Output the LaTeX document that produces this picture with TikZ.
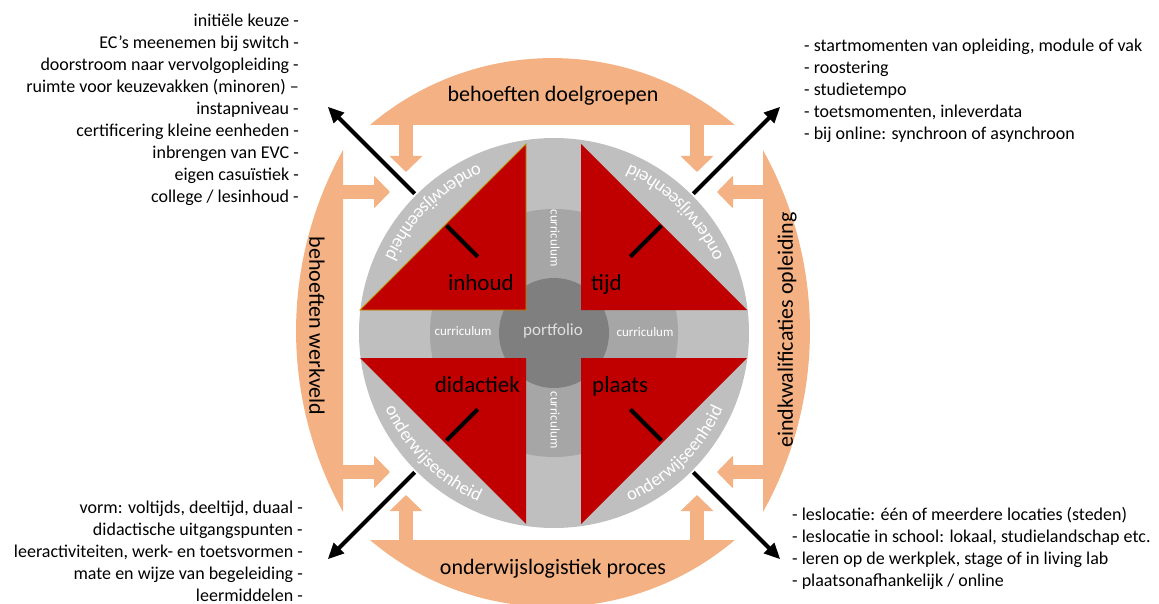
\documentclass[tikz,border=0pt]{standalone}
\usepackage{fontspec}
\setmainfont{Carlito}
\usetikzlibrary{arrows.meta,calc,decorations.text}

\definecolor{peach}{HTML}{F4B183}
\definecolor{quadred}{HTML}{C00000}
\definecolor{ringgray}{HTML}{BFBFBF}
\definecolor{midgray}{HTML}{A6A6A6}
\definecolor{coregray}{HTML}{7F7F7F}
\definecolor{edgegold}{HTML}{BF9000}

\tikzset{
  blockarrow/.style={peach, line width=14pt, -{Triangle[width=32pt,length=16pt]}},
  pointer/.style={black, line width=4pt, -{Triangle[width=14pt,length=16pt]}},
  spoke/.style={black, line width=4pt},
  listtext/.style={font=\fontsize{18}{22}\selectfont, inner sep=0pt},
  bandlabel/.style={font=\fontsize{22}{26}\selectfont, inner sep=0pt},
  quadlabel/.style={font=\fontsize{23}{27}\selectfont, inner sep=0pt},
  currlabel/.style={font=\fontsize{13}{15}\selectfont, text=white, inner sep=0pt},
}

\begin{document}
\begin{tikzpicture}[x=1pt,y=1pt]
  \useasboundingbox (0,0) rectangle (1159,-604);
  \coordinate (C) at (554,-333);

  % orange frame round the wheel
  \fill[peach] (370,-125) arc[start angle=130.3, end angle=49.7, radius=282] -- cycle;
  \fill[peach] (370,-540) arc[start angle=229.7, end angle=310.3, radius=282] -- cycle;
  \fill[peach] (343,-150) arc[start angle=150.9, end angle=209.1, radius=372] -- cycle;
  \fill[peach] (763,-512) arc[start angle=-29.1, end angle=29.1, radius=372] -- cycle;

  \coordinate (dg-l) at (406,-125);  \coordinate (dg-l-end) at (406,-172);
  \coordinate (dg-r) at (697,-125);  \coordinate (dg-r-end) at (697,-172);
  \coordinate (lp-l) at (406,-540);  \coordinate (lp-l-end) at (406,-495);
  \coordinate (lp-r) at (697,-540);  \coordinate (lp-r-end) at (697,-495);
  \coordinate (wv-t) at (343,-192);  \coordinate (wv-t-end) at (390,-192);
  \coordinate (wv-b) at (343,-472);  \coordinate (wv-b-end) at (390,-472);
  \coordinate (ek-t) at (763,-192);  \coordinate (ek-t-end) at (717,-192);
  \coordinate (ek-b) at (763,-472);  \coordinate (ek-b-end) at (717,-472);
  \draw[blockarrow] (dg-l) -- (dg-l-end);
  \draw[blockarrow] (dg-r) -- (dg-r-end);
  \draw[blockarrow] (lp-l) -- (lp-l-end);
  \draw[blockarrow] (lp-r) -- (lp-r-end);
  \draw[blockarrow] (wv-t) -- (wv-t-end);
  \draw[blockarrow] (wv-b) -- (wv-b-end);
  \draw[blockarrow] (ek-t) -- (ek-t-end);
  \draw[blockarrow] (ek-b) -- (ek-b-end);

  % the wheel
  \fill[ringgray] (C) circle[radius=195];
  \fill[midgray] (C) circle[radius=124];
  \fill[coregray] (C) circle[radius=55];
  \filldraw[quadred, draw=edgegold, line width=0.8pt] (526,-310) -- (360,-310) -- (526,-144) -- cycle;
  \fill[quadred] (581,-310) -- (747,-310) -- (581,-144) -- cycle;
  \fill[quadred] (526,-358) -- (360,-358) -- (526,-524) -- cycle;
  \fill[quadred] (581,-358) -- (747,-358) -- (581,-524) -- cycle;

  \foreach \a/\nm in {135/tl, 45/tr, 225/bl, 315/br} {
    \coordinate (\nm-in) at ($(C)+(\a:108)$);
    \coordinate (\nm-rim) at ($(C)+(\a:152)$);
    \coordinate (\nm-edge) at ($(C)+(\a:197)$);
    \coordinate (\nm-tip) at ($(C)+(\a:320)$);
    \draw[spoke] (\nm-in) -- (\nm-rim);
    \draw[pointer] (\nm-edge) -- (\nm-tip);
  }

  \foreach \s/\e in {105/165, 15/75, 195/255, 285/345}
    \path[decorate, decoration={text along path, text align=center, text color=white,
      text={|\fontsize{18.5}{19}\selectfont|onderwijseenheid}}]
      ($(C)+(\s:185)$) arc[start angle=\s, end angle=\e, radius=185];

  \node[currlabel, rotate=-90] (curr-n) at (555,-238) {curriculum};
  \node[currlabel, rotate=-90] (curr-s) at (555,-420) {curriculum};
  \node[currlabel] (curr-w) at (463,-331) {curriculum};
  \node[currlabel] (curr-e) at (645,-332) {curriculum};
  \node[font=\fontsize{17}{20}\selectfont, text=white!88!black, inner sep=0pt] (portfolio) at (553,-331) {portfolio};

  \node[quadlabel, anchor=base east] (inhoud) at (514,-290) {inhoud};
  \node[quadlabel, anchor=base west] (tijd) at (591,-290) {tijd};
  \node[quadlabel, anchor=base east] (didactiek) at (520,-392) {didactiek};
  \node[quadlabel, anchor=base west] (plaats) at (592,-392) {plaats};

  \node[bandlabel, anchor=base] (doelgroepen) at (553,-102) {behoeften doelgroepen};
  \node[bandlabel, anchor=base] (logistiek) at (553,-574) {onderwijslogistiek proces};
  \node[bandlabel, rotate=-90] (werkveld) at (317,-326) {behoeften werkveld};
  \node[bandlabel, rotate=90] (eindkwal) at (787,-330) {eindkwalificaties opleiding};

  % lists of examples
  \foreach \txt [count=\i] in {initiële keuze -, EC’s meenemen bij switch -,
      doorstroom naar vervolgopleiding -, ruimte voor keuzevakken (minoren) –,
      instapniveau -, certificering kleine eenheden -, inbrengen van EVC -,
      eigen casuïstiek -, college / lesinhoud -}
    \node[listtext, anchor=base east] (inh-\i) at (299,{-27-22*(\i-1)}) {\txt};
  \foreach \txt [count=\i] in {{- startmomenten van opleiding, module of vak}, - roostering,
      - studietempo, {- toetsmomenten, inleverdata}, - bij online: synchroon of asynchroon}
    \node[listtext, anchor=base west] (tijd-\i) at (804,{-52-22*(\i-1)}) {\txt};
  \foreach \txt [count=\i] in {{vorm: voltijds, deeltijd, duaal -}, didactische uitgangspunten -,
      {leeractiviteiten, werk- en toetsvormen -}, mate en wijze van begeleiding -, leermiddelen -}
    \node[listtext, anchor=base east] (did-\i) at (303,{-513-22*(\i-1)}) {\txt};
  \foreach \txt [count=\i] in {- leslocatie: één of meerdere locaties (steden),
      {- leslocatie in school: lokaal, studielandschap etc.},
      {- leren op de werkplek, stage of in living lab}, - plaatsonafhankelijk / online}
    \node[listtext, anchor=base west] (pl-\i) at (792,{-520-22*(\i-1)}) {\txt};
\end{tikzpicture}
\end{document}
